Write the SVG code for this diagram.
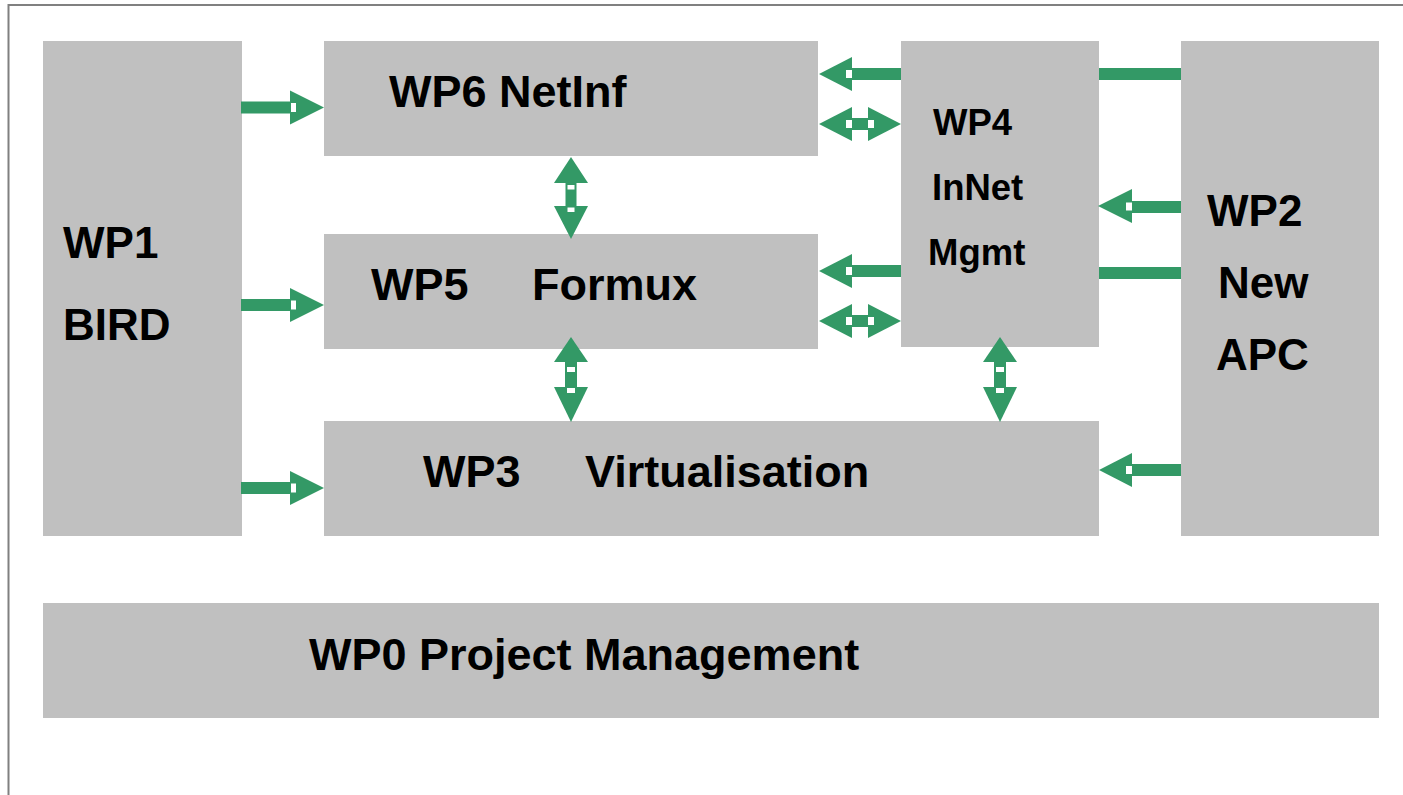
<svg xmlns="http://www.w3.org/2000/svg" width="1403" height="795" viewBox="0 0 1403 795">
<style>
.box{fill:#c0c0c0}
.t{font-family:"Liberation Sans",Arial,sans-serif;font-weight:bold;font-size:44px;fill:#000}
.tl{font-family:"Liberation Sans",Arial,sans-serif;font-weight:bold;font-size:45px;fill:#000}
.t4{font-family:"Liberation Sans",Arial,sans-serif;font-weight:bold;font-size:36.5px;fill:#000}
.g{fill:#339966}
.n{fill:#ffffff}
</style>
<rect x="0" y="0" width="1403" height="795" fill="#ffffff"/>
<path d="M8.5 795 V5 H1403" fill="none" stroke="#808080" stroke-width="2"/>
<g id="wp1"><rect class="box" x="43" y="41" width="199" height="495"/><text class="t" x="63" y="258">WP1</text><text class="t" x="63" y="340">BIRD</text></g>
<g id="wp6"><rect class="box" x="324" y="41" width="494" height="115"/><text class="tl" x="389" y="107">WP6 NetInf</text></g>
<g id="wp4"><rect class="box" x="901" y="41" width="198" height="306"/><text class="t4" x="933" y="135">WP4</text><text class="t4" x="932" y="200">InNet</text><text class="t4" x="928" y="265">Mgmt</text></g>
<g id="wp2"><rect class="box" x="1181" y="41" width="198" height="495"/><text class="t" x="1207" y="226">WP2</text><text class="t" x="1218" y="298">New</text><text class="t" x="1216" y="370">APC</text></g>
<g id="wp5"><rect class="box" x="324" y="234" width="494" height="115"/><text class="tl" x="371" y="300">WP5</text><text class="tl" x="532" y="300">Formux</text></g>
<g id="wp3"><rect class="box" x="324" y="421" width="775" height="115"/><text class="tl" x="423" y="487">WP3</text><text class="tl" x="585" y="487">Virtualisation</text></g>
<g id="wp0"><rect class="box" x="43" y="603" width="1336" height="115"/><text class="tl" x="309" y="670">WP0 Project Management</text></g>
<g id="connectors">
<!-- WP1 -> WP6 -->
<rect class="g" x="241" y="101.5" width="50" height="12"/><path class="g" d="M290 90.5 L324 107.5 L290 124.5 Z"/><rect class="n" x="291" y="103" width="5" height="9"/>
<!-- WP1 -> WP5 -->
<rect class="g" x="241" y="299" width="50" height="12"/><path class="g" d="M290 288 L324 305 L290 322 Z"/><rect class="n" x="291" y="300.5" width="5" height="9"/>
<!-- WP1 -> WP3 -->
<rect class="g" x="241" y="482" width="50" height="12"/><path class="g" d="M290 471 L324 488 L290 505 Z"/><rect class="n" x="291" y="483.5" width="5" height="9"/>
<!-- WP4 -> WP6 -->
<rect class="g" x="851" y="68" width="50" height="12"/><path class="g" d="M852 57 L819 74 L852 91 Z"/><rect class="n" x="846" y="70" width="6" height="8"/>
<!-- WP4 <-> WP6 -->
<rect class="g" x="851" y="118" width="18" height="12"/><path class="g" d="M852 107 L819 124 L852 141 Z"/><path class="g" d="M868 107 L901 124 L868 141 Z"/><rect class="n" x="846" y="120" width="6" height="8"/><rect class="n" x="868" y="120" width="6" height="8"/>
<!-- WP4 -> WP5 -->
<rect class="g" x="851" y="265" width="50" height="12"/><path class="g" d="M852 254 L819 271 L852 288 Z"/><rect class="n" x="846" y="267" width="6" height="8"/>
<!-- WP4 <-> WP5 -->
<rect class="g" x="851" y="315" width="18" height="12"/><path class="g" d="M852 304 L819 321 L852 338 Z"/><path class="g" d="M868 304 L901 321 L868 338 Z"/><rect class="n" x="846" y="317" width="6" height="8"/><rect class="n" x="868" y="317" width="6" height="8"/>
<!-- WP6 <-> WP5 -->
<rect class="g" x="565.5" y="182" width="11" height="25"/><path class="g" d="M554 183 L571 157 L588 183 Z"/><path class="g" d="M554 206 L571 239 L588 206 Z"/><rect class="n" x="567.5" y="185" width="7" height="4.5"/><rect class="n" x="567.5" y="207.5" width="7" height="4.5"/>
<!-- WP5 <-> WP3 -->
<rect class="g" x="565" y="361" width="12" height="27"/><path class="g" d="M554 362 L571 337 L588 362 Z"/><path class="g" d="M554 387 L571 422 L588 387 Z"/><rect class="n" x="567" y="367" width="8" height="5"/><rect class="n" x="567" y="388" width="8" height="5"/>
<!-- WP4 <-> WP3 -->
<rect class="g" x="994" y="361" width="12" height="27"/><path class="g" d="M983 362 L1000 337 L1017 362 Z"/><path class="g" d="M983 387 L1000 422 L1017 387 Z"/><rect class="n" x="996" y="367" width="8" height="5"/><rect class="n" x="996" y="388" width="8" height="5"/>
<!-- WP2 -> WP4 -->
<rect class="g" x="1131" y="201" width="50" height="12"/><path class="g" d="M1132 189 L1098 206 L1132 223 Z"/><rect class="n" x="1126" y="202.5" width="6" height="8"/>
<!-- WP2 -> WP3 -->
<rect class="g" x="1131" y="464" width="50" height="12"/><path class="g" d="M1132 453 L1099 470 L1132 487 Z"/><rect class="n" x="1126" y="466" width="6" height="8"/>
<!-- WP4 - WP2 lines -->
<rect class="g" x="1099" y="68" width="82" height="12"/>
<rect class="g" x="1099" y="267" width="82" height="12"/>
</g>
</svg>
